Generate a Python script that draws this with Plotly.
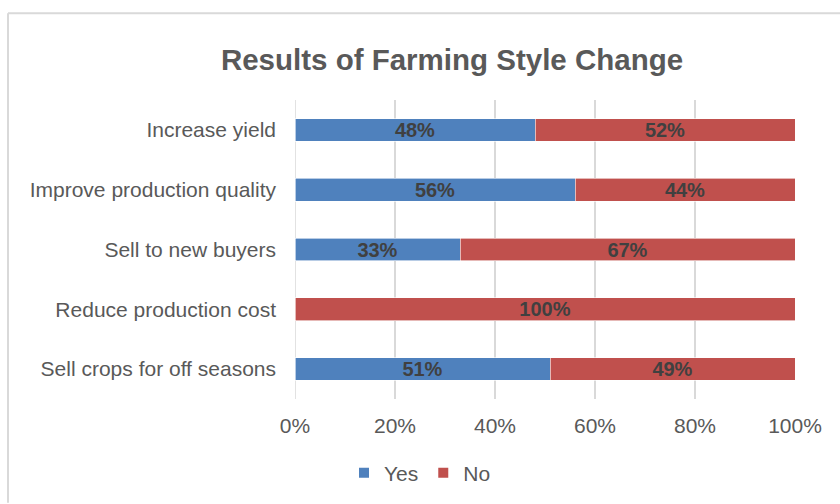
import plotly.graph_objects as go

# Survey results: share of respondents per outcome
categories = [
    "Increase yield",
    "Improve production quality",
    "Sell to new buyers",
    "Reduce production cost",
    "Sell crops for off seasons",
]
yes_pct = [48, 56, 33, 0, 51]
no_pct = [52, 44, 67, 100, 49]
x_ticks = [0, 20, 40, 60, 80, 100]
x_tick_labels = ["0%", "20%", "40%", "60%", "80%", "100%"]

BLUE = "#4F81BD"
RED = "#C0504D"
GRID = "#D9D9D9"
TEXT = "#595959"
LABEL = "#404040"
FONT = "Liberation Sans, Arial, sans-serif"


def labels(values):
    return [f"{v}%" if v > 0 else "" for v in values]


fig = go.Figure()
for name, vals, color in [("Yes", yes_pct, BLUE), ("No", no_pct, RED)]:
    fig.add_trace(go.Bar(
        y=categories, x=vals, name=name, orientation="h",
        marker=dict(color=color, line=dict(color="white", width=0.6)),
        text=labels(vals), textposition="inside", insidetextanchor="middle",
        textfont=dict(family=FONT, size=20, color=LABEL, weight="bold"),
        constraintext="none", showlegend=False, hoverinfo="x+y+name",
    ))
    # square legend swatches
    fig.add_trace(go.Scatter(
        x=[None], y=[None], mode="markers", name=name,
        marker=dict(symbol="square", size=10, color=color),
    ))

fig.update_layout(
    width=840, height=504,
    barmode="stack", bargap=0.62,
    paper_bgcolor="white", plot_bgcolor="white",
    margin=dict(l=295, r=45, t=100, b=104),
    font=dict(family=FONT, color=TEXT, size=21),
    title=dict(
        text="<b>Results of Farming Style Change</b>",
        x=452 / 840, xref="container", xanchor="center",
        y=1 - 60 / 504, yref="container", yanchor="middle",
        font=dict(family=FONT, size=29.5, color=TEXT),
    ),
    xaxis=dict(
        range=[0, 100], tickmode="array", tickvals=x_ticks, ticktext=x_tick_labels,
        showgrid=True, gridcolor=GRID, gridwidth=1.5,
        zeroline=False, showline=False, ticks="",
        tickfont=dict(family=FONT, size=21, color=TEXT),
        ticklabelstandoff=12,
    ),
    yaxis=dict(
        autorange="reversed", showgrid=False, zeroline=False,
        showline=False, ticks="", ticklabelstandoff=18,
        tickfont=dict(family=FONT, size=21, color=TEXT),
    ),
    legend=dict(
        orientation="h", traceorder="normal",
        x=(420 - 295) / 500, xanchor="center",
        y=-73 / 300, yanchor="middle",
        font=dict(family=FONT, size=21, color=TEXT),
        itemwidth=30, tracegroupgap=0,
    ),
    shapes=[
        # left axis line in grid colour
        dict(type="line", xref="x", yref="paper", x0=0, x1=0, y0=0, y1=1,
             line=dict(color=GRID, width=1.5), layer="below"),
        # chart frame (top and left edges)
        dict(type="line", xref="paper", yref="paper",
             x0=-287 / 500, x1=545 / 500, y0=(400 - 13) / 300, y1=(400 - 13) / 300,
             line=dict(color=GRID, width=2)),
        dict(type="line", xref="paper", yref="paper",
             x0=-287 / 500, x1=-287 / 500, y0=(400 - 13) / 300, y1=-104 / 300,
             line=dict(color=GRID, width=2)),
    ],
)

fig.write_html("out.html")
